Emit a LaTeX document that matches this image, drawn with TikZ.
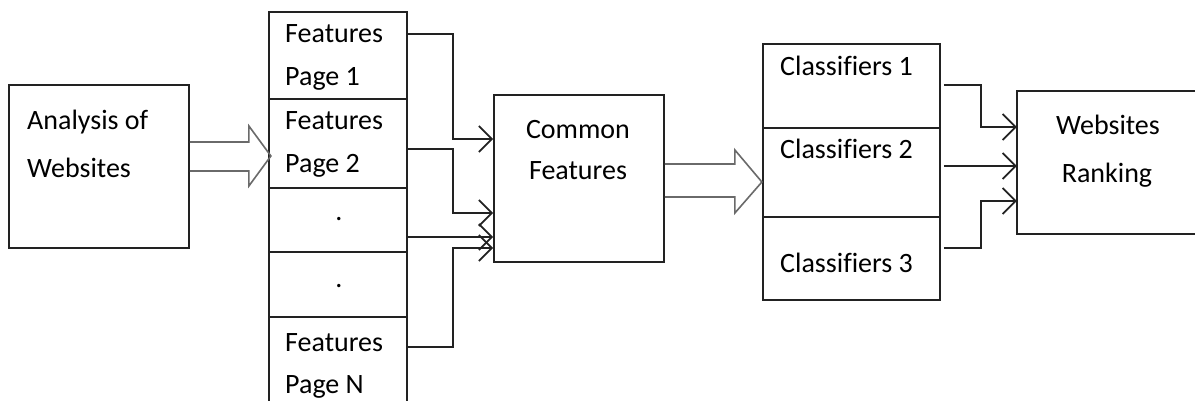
\documentclass[tikz,border=0pt]{standalone}
\usepackage{fontspec}
\setmainfont{Carlito}[Ligatures=NoCommon]
\usetikzlibrary{arrows.meta}
\definecolor{linec}{HTML}{222222}
\definecolor{hollowc}{HTML}{6A6A6A}
\tikzset{
  box/.style={draw=linec, line width=1.8pt, rectangle, inner sep=0pt},
  openbox/.style={rectangle, inner sep=0pt},
  edge/.style={draw=linec, line width=1.8pt},
  lbl/.style={inner sep=0pt, anchor=base west, text=black, font=\fontsize{28}{43}\selectfont},
  clbl/.style={inner sep=0pt, anchor=base, text=black, font=\fontsize{28}{43}\selectfont},
  conn/.style={draw=linec, line width=1.7pt, -{Straight Barb[length=13pt,width=26pt,line width=1.7pt]}},
  hollow/.style={draw=hollowc, line width=1.6pt, line join=miter}
}
\begin{document}
\begin{tikzpicture}[x=1pt,y=-1pt]
\useasboundingbox (0,0) rectangle (1195,401);
\clip (0,0) rectangle (1195,401);
\fill[white] (0,0) rectangle (1195,401);

% boxes
\node[box, minimum width=180pt, minimum height=163pt] (ana) at (99,166.5) {};
\node[box, minimum width=138pt, minimum height=87pt] (f1) at (338,55.5) {};
\node[box, minimum width=138pt, minimum height=89pt] (f2) at (338,143.5) {};
\node[box, minimum width=138pt, minimum height=64pt] (f3) at (338,220) {};
\node[box, minimum width=138pt, minimum height=65pt] (f4) at (338,284.5) {};
\node[box, minimum width=138pt, minimum height=113pt] (f5) at (338,373.5) {};
\node[box, minimum width=170pt, minimum height=167pt] (cf) at (579,178.5) {};
\node[box, minimum width=177pt, minimum height=84pt] (c1) at (851.5,86) {};
\node[box, minimum width=177pt, minimum height=89pt] (c2) at (851.5,172.5) {};
\node[box, minimum width=177pt, minimum height=83pt] (c3) at (851.5,258.5) {};
% ranking box: open on the right (cut by the picture edge)
\node[openbox, minimum width=200pt, minimum height=143pt] (rk) at (1117,162.5) {};
\draw[edge] (rk.north east) -- (rk.north west) -- (rk.south west) -- (rk.south east);

% texts
\node[lbl] (tana1) at (27,130) {Analysis of};
\node[lbl] (tana2) at (27,178) {Websites};
\node[lbl] (tf1a) at (285,43) {Features};
\node[lbl] (tf1b) at (285,86) {Page 1};
\node[lbl] (tf2a) at (285,130) {Features};
\node[lbl] (tf2b) at (285,173) {Page 2};
\node[clbl] (tf3) at (339,220) {.};
\node[clbl] (tf4) at (339,287) {.};
\node[lbl] (tf5a) at (285,351) {Features};
\node[lbl] (tf5b) at (285,393) {Page N};
\node[clbl] (tcf1) at (578,139) {Common};
\node[clbl] (tcf2) at (578,180) {Features};
\node[lbl] (tc1) at (780,76) {Classifiers 1};
\node[lbl] (tc2) at (780,159) {Classifiers 2};
\node[lbl] (tc3) at (780,272) {Classifiers 3};
\node[clbl] (trk1) at (1108,135) {Websites};
\node[clbl] (trk2) at (1107,183) {Ranking};

% hollow arrows
\draw[hollow] ([yshift=24.5pt]ana.east) -- ++(59,0) -- ++(0,-16) -- ++(22,30) -- ++(-22,30) -- ++(0,-15) -- ++(-59,0);
\draw[hollow] ([yshift=14.5pt]cf.east) -- ++(70,0) -- ++(0,-14) -- ++(27,32) -- ++(-27,31) -- ++(0,-16) -- ++(-70,0);

% connectors features -> common
\draw[conn] ([yshift=21.5pt]f1.east) -- ++(45,0) |- ([yshift=39.5pt]cf.west);
\draw[conn] ([yshift=-5.5pt]f2.east) -- ++(45,0) |- ([yshift=-34.5pt]cf.west);
\draw[conn] ([yshift=-17pt]f3.east) -- ([yshift=-58.5pt]cf.west);
\draw[conn] ([yshift=26.5pt]f5.east) -- ++(45,0) |- ([yshift=-69.5pt]cf.west);

% connectors classifiers -> ranking
\draw[conn] ([xshift=3pt,yshift=1pt]c1.east) -- ++(37,0) |- ([yshift=35.5pt]rk.west);
\draw[conn] ([xshift=3pt,yshift=6.5pt]c2.east) -- ([yshift=-3.5pt]rk.west);
\draw[conn] ([xshift=3pt,yshift=10.5pt]c3.east) -- ++(37,0) |- ([yshift=-38.5pt]rk.west);
\end{tikzpicture}
\end{document}
